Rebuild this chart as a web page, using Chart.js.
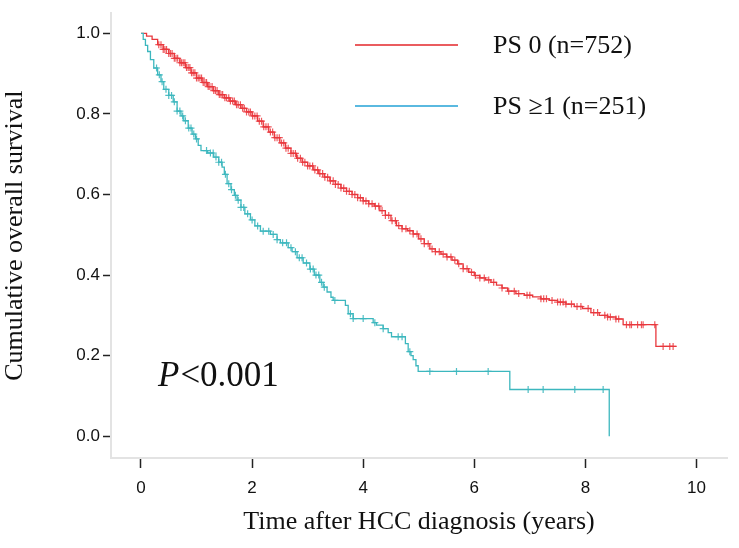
<!DOCTYPE html>
<html>
<head>
<meta charset="utf-8">
<script src="https://cdn.jsdelivr.net/npm/chart.js@4/dist/chart.umd.min.js"></script>
<style>
  html, body { margin: 0; padding: 0; background: #ffffff; }
  #wrap { width: 739px; height: 548px; }
</style>
</head>
<body>
<div id="wrap"><canvas id="c" width="739" height="548"></canvas></div>
<script>
// ---- Data ----
const xTicks = [0, 2, 4, 6, 8, 10];
const yTicks = [0.0, 0.2, 0.4, 0.6, 0.8, 1.0];

const seriesNames = ["PS 0 (n=752)", "PS \u22651 (n=251)"];

// PS 0: Kaplan–Meier step points [time (years), survival after the step]
const ps0Time = [0, 0.1, 0.2, 0.3, 0.4, 0.5, 0.6, 0.7, 0.8, 0.9, 1.0, 1.1, 1.2, 1.3, 1.4, 1.5, 1.6, 1.7, 1.8, 1.9,
  2.0, 2.1, 2.2, 2.3, 2.4, 2.5, 2.6, 2.7, 2.8, 2.9, 3.0, 3.1, 3.2, 3.3, 3.4, 3.5, 3.6, 3.7, 3.8, 3.9,
  4.0, 4.1, 4.2, 4.3, 4.4, 4.5, 4.6, 4.7, 4.8, 4.9, 5.0, 5.1, 5.2, 5.3, 5.4, 5.5, 5.6, 5.7, 5.8, 5.9,
  6.0, 6.1, 6.2, 6.3, 6.4, 6.5, 6.6, 6.75, 6.9, 7.05, 7.2, 7.35, 7.5, 7.65, 7.8, 7.95, 8.1, 8.25, 8.4, 8.55,
  8.68, 9.27, 9.64];
const ps0Surv = [1.0, 0.993, 0.985, 0.972, 0.96, 0.95, 0.938, 0.927, 0.915, 0.902, 0.889, 0.878, 0.868, 0.858, 0.848, 0.84, 0.832, 0.823, 0.814, 0.805,
  0.795, 0.782, 0.768, 0.755, 0.741, 0.728, 0.715, 0.702, 0.69, 0.68, 0.671, 0.661, 0.652, 0.643, 0.634, 0.625, 0.616, 0.608, 0.6, 0.592,
  0.584, 0.577, 0.571, 0.56, 0.548, 0.535, 0.523, 0.515, 0.51, 0.502, 0.49, 0.478, 0.465, 0.458, 0.452, 0.445, 0.437, 0.428, 0.416, 0.407,
  0.399, 0.393, 0.388, 0.382, 0.375, 0.368, 0.36, 0.354, 0.35, 0.346, 0.341, 0.337, 0.333, 0.328, 0.322, 0.317, 0.307, 0.3, 0.296, 0.291,
  0.277, 0.223, 0.223];
// PS 0 censored times
const ps0Censor = [0.32, 0.36, 0.4, 0.43, 0.46, 0.5, 0.53, 0.56, 0.6, 0.63, 0.66, 0.7, 0.73, 0.76, 0.79, 0.82, 0.85, 0.88, 0.91, 0.94,
  0.97, 1.0, 1.03, 1.06, 1.09, 1.12, 1.15, 1.18, 1.21, 1.24, 1.28, 1.31, 1.34, 1.37, 1.41, 1.44, 1.47, 1.51, 1.54, 1.58,
  1.61, 1.65, 1.68, 1.72, 1.75, 1.79, 1.83, 1.86, 1.9, 1.94, 1.97, 2.01, 2.05, 2.09, 2.13, 2.17, 2.21, 2.25, 2.29, 2.33,
  2.37, 2.41, 2.45, 2.49, 2.53, 2.57, 2.61, 2.65, 2.7, 2.74, 2.78, 2.82, 2.87, 2.91, 2.95, 3.0, 3.04, 3.09, 3.13, 3.18,
  3.22, 3.27, 3.31, 3.36, 3.41, 3.46, 3.5, 3.55, 3.6, 3.65, 3.7, 3.75, 3.8, 3.85, 3.9, 3.95, 4.0, 4.05, 4.1, 4.16,
  4.22, 4.28, 4.34, 4.4, 4.46, 4.52, 4.58, 4.64, 4.7, 4.77, 4.84, 4.9, 4.97, 5.04, 5.1, 5.17, 5.24, 5.3, 5.37, 5.44,
  5.51, 5.58, 5.65, 5.72, 5.8, 5.87, 5.95, 6.02, 6.1, 6.18, 6.26, 6.35, 6.5, 6.62, 6.72, 6.8, 6.95, 7.0, 7.2, 7.25,
  7.3, 7.4, 7.5, 7.55, 7.6, 7.65, 7.75, 7.85, 7.92, 8.05, 8.15, 8.22, 8.35, 8.4, 8.45, 8.55, 8.6, 8.74, 8.8, 8.83,
  8.94, 9.01, 9.04, 9.25, 9.4, 9.52, 9.58];

// PS >=1: Kaplan–Meier step points
const ps1Time = [0, 0.04, 0.08, 0.12, 0.17, 0.23, 0.3, 0.36, 0.41, 0.5, 0.58, 0.65, 0.72, 0.77, 0.85, 0.92, 0.98, 1.03, 1.08, 1.2,
  1.31, 1.4, 1.46, 1.5, 1.55, 1.62, 1.68, 1.73, 1.8, 1.87, 1.97, 2.05, 2.15, 2.33, 2.45, 2.51, 2.65, 2.72, 2.81, 2.92,
  3.04, 3.12, 3.22, 3.28, 3.35, 3.42, 3.46, 3.68, 3.73, 3.82, 4.18, 4.24, 4.36, 4.45, 4.51, 4.76, 4.81, 4.86, 4.9, 4.95,
  4.99, 6.64, 8.43];
const ps1Surv = [1.0, 0.985, 0.97, 0.955, 0.935, 0.914, 0.897, 0.88, 0.861, 0.846, 0.83, 0.807, 0.795, 0.783, 0.765, 0.75, 0.738, 0.722, 0.709, 0.703,
  0.693, 0.68, 0.668, 0.65, 0.627, 0.612, 0.598, 0.586, 0.568, 0.552, 0.537, 0.522, 0.509, 0.501, 0.488, 0.48, 0.468, 0.458, 0.443, 0.43,
  0.415, 0.4, 0.382, 0.37, 0.358, 0.345, 0.337, 0.325, 0.304, 0.292, 0.282, 0.276, 0.267, 0.257, 0.247, 0.23, 0.21, 0.2, 0.19, 0.175,
  0.161, 0.116, 0.0];
// PS >=1 censored times
const ps1Censor = [0.28, 0.33, 0.38, 0.45, 0.5, 0.55, 0.6, 0.65, 0.7, 0.75, 0.8, 0.86, 0.9, 0.95, 1.0, 1.18, 1.25, 1.3, 1.35, 1.4,
  1.45, 1.52, 1.58, 1.63, 1.7, 1.75, 1.8, 1.85, 1.92, 2.0, 2.1, 2.2, 2.3, 2.38, 2.45, 2.55, 2.62, 2.7, 2.78, 2.85,
  2.9, 2.98, 3.05, 3.1, 3.15, 3.2, 3.25, 3.3, 3.49, 3.77, 3.82, 4.0, 4.21, 4.36, 4.63, 4.7, 4.84, 5.2, 5.68, 6.25,
  6.97, 7.24, 7.81, 8.32];

// ---- Build library data ----
function steps(t, s) { return t.map((x, i) => ({ x: x, y: s[i] })); }
function survAt(t, s, time) {
  let v = s[0];
  for (let i = 0; i < t.length; i++) { if (t[i] <= time) v = s[i]; else break; }
  return v;
}
function censorPts(t, s, times) { return times.map(x => ({ x: x, y: survAt(t, s, x) })); }

const RED = '#e8373c';
const RED_MARK = 'rgba(236,58,64,0.85)';
const TEAL = '#3cb7be';
const TEAL_MARK = 'rgba(60,183,190,0.9)';
const SERIF = '"Liberation Serif", "Times New Roman", serif';
const SANS = '"Liberation Sans", Arial, sans-serif';

const overlay = {
  id: 'overlay',
  afterDraw(chart) {
    const ctx = chart.ctx;
    ctx.save();
    // legend
    const rows = [
      { y: 45, color: '#e3262a', text: seriesNames[0] },
      { y: 106, color: '#23a2d6', text: seriesNames[1] }
    ];
    ctx.font = '26px ' + SERIF;
    ctx.textBaseline = 'middle';
    ctx.textAlign = 'left';
    rows.forEach(r => {
      ctx.strokeStyle = r.color;
      ctx.lineWidth = 1.5;
      ctx.beginPath();
      ctx.moveTo(355, r.y);
      ctx.lineTo(458, r.y);
      ctx.stroke();
      ctx.fillStyle = '#111';
      ctx.fillText(r.text, 493, r.y + 1);
    });
    // P value
    ctx.textBaseline = 'alphabetic';
    ctx.font = 'italic 35px ' + SERIF;
    ctx.fillStyle = '#111';
    ctx.fillText('P', 158, 386);
    const w = ctx.measureText('P').width;
    ctx.font = '35px ' + SERIF;
    ctx.fillText('<0.001', 158 + w + 1, 386);
    ctx.restore();
  }
};

new Chart(document.getElementById('c'), {
  type: 'line',
  data: {
    datasets: [
      { label: seriesNames[1], data: steps(ps1Time, ps1Surv), borderColor: TEAL, borderWidth: 1.3, stepped: true, pointRadius: 0, fill: false },
      { label: seriesNames[1] + ' censored', data: censorPts(ps1Time, ps1Surv, ps1Censor), showLine: false, pointStyle: 'cross', pointRadius: 3.5, borderColor: TEAL_MARK, borderWidth: 1.2 },
      { label: seriesNames[0], data: steps(ps0Time, ps0Surv), borderColor: RED, borderWidth: 1.3, stepped: true, pointRadius: 0, fill: false },
      { label: seriesNames[0] + ' censored', data: censorPts(ps0Time, ps0Surv, ps0Censor), showLine: false, pointStyle: 'cross', pointRadius: 3.5, borderColor: RED_MARK, borderWidth: 1.2 }
    ]
  },
  options: {
    responsive: false,
    animation: false,
    devicePixelRatio: 1,
    layout: { padding: { top: 8, right: 12, left: 0, bottom: 0 } },
    plugins: { legend: { display: false }, tooltip: { enabled: false } },
    scales: {
      x: {
        type: 'linear',
        min: -0.54,
        max: 10.55,
        afterBuildTicks: s => { s.ticks = xTicks.map(v => ({ value: v })); },
        afterFit: s => { s.height = 90; },
        ticks: { callback: v => String(v), color: '#111', font: { family: SANS, size: 17 }, padding: 10, maxRotation: 0 },
        grid: { drawOnChartArea: false, drawTicks: true, tickLength: 10, tickColor: '#222', tickWidth: 1.5 },
        border: { display: true, color: '#e3e3e3', width: 2 },
        title: { display: true, text: 'Time after HCC diagnosis (years)', color: '#111', font: { family: SERIF, size: 26 }, padding: { top: 0, bottom: 10 } }
      },
      y: {
        type: 'linear',
        min: -0.054,
        max: 1.05,
        afterBuildTicks: s => { s.ticks = yTicks.map(v => ({ value: v })); },
        afterFit: s => { s.width = 111; },
        ticks: { callback: v => Number(v).toFixed(1), color: '#111', font: { family: SANS, size: 17 }, padding: 3 },
        grid: { drawOnChartArea: false, drawTicks: true, tickLength: 8, tickColor: '#222', tickWidth: 1.5 },
        border: { display: true, color: '#e3e3e3', width: 2 },
        title: { display: true, text: 'Cumulative overall survival', color: '#111', font: { family: SERIF, size: 26 }, padding: { top: 0, bottom: 0 } }
      }
    }
  },
  plugins: [overlay]
});
</script>
</body>
</html>
